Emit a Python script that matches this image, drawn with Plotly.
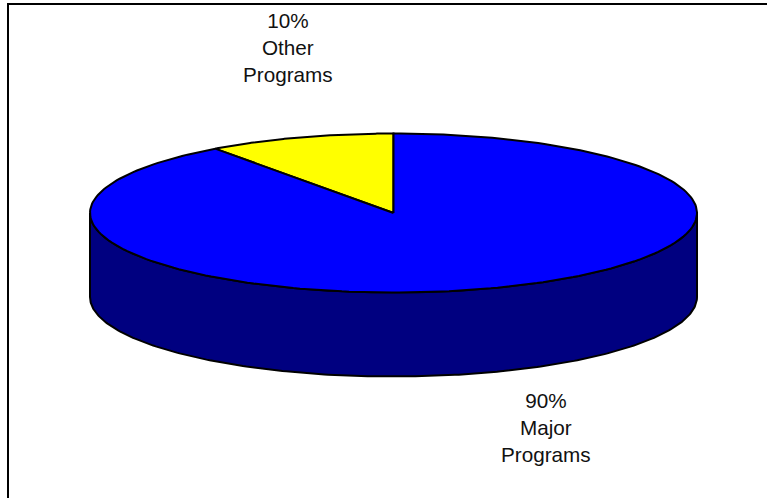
import numpy as np
import plotly.graph_objects as go

categories = ["Other Programs", "Major Programs"]
shares = [10, 90]
colors = ["#FFFF00", "#0000FF"]
side_color = "#000080"
label_lines = [["10%", "Other", "Programs"], ["90%", "Major", "Programs"]]

W, H = 767, 498
CX, CY, RX, RY, DEPTH = 393.5, 213, 303.5, 79.5, 84
LW = 2


def rim(a0, a1, dy=0.0, n=240):
    # angles in degrees clockwise from 12 o'clock
    t = np.radians(np.linspace(a0, a1, n))
    return CX + RX * np.sin(t), CY - RY * np.cos(t) + dy


fig = go.Figure()

# side wall: front half of rim extruded downward
xt, yt = rim(90, 270)
xb, yb = rim(90, 270, DEPTH)
fig.add_trace(go.Scatter(
    x=np.r_[xt, xb[::-1], xt[0]], y=np.r_[yt, yb[::-1], yt[0]],
    mode="lines", fill="toself", fillcolor=side_color,
    line=dict(color="black", width=LW), hoverinfo="skip", showlegend=False))

# top slices: the first share ends at 12 o'clock, going clockwise
total = sum(shares)
start = -360 * shares[0] / total
for name, s, c in zip(categories, shares, colors):
    sweep = 360 * s / total
    x, y = rim(start, start + sweep)
    fig.add_trace(go.Scatter(
        x=np.r_[CX, x, CX], y=np.r_[CY, y, CY],
        mode="lines", fill="toself", fillcolor=c,
        line=dict(color="black", width=LW), name=name, showlegend=False,
        hoverinfo="name"))
    start += sweep

label_pos = [(288, 47.5), (545.5, 427)]
annotations = [
    dict(x=px, y=py, xref="x", yref="y", showarrow=False,
         text="<br>".join(lines), align="center",
         font=dict(family="Liberation Sans, Arial, sans-serif", size=20.7, color="#111111"))
    for lines, (px, py) in zip(label_lines, label_pos)
]

# only the top and left edges of the frame are visible
frame = dict(type="line", xref="x", yref="y", line=dict(color="black", width=2), layer="below")

fig.update_layout(
    width=W, height=H, margin=dict(l=0, r=0, t=0, b=0),
    paper_bgcolor="white", plot_bgcolor="white",
    xaxis=dict(range=[0, W], visible=False, fixedrange=True),
    yaxis=dict(range=[H, 0], visible=False, fixedrange=True),
    annotations=annotations,
    shapes=[
        dict(frame, x0=7, y0=4, x1=W, y1=4),
        dict(frame, x0=8, y0=3, x1=8, y1=H),
    ],
)

fig.write_html(
    "out.html",
    config={"displayModeBar": False},
    post_script="document.body.style.margin='0';document.documentElement.style.overflow='hidden';",
)
